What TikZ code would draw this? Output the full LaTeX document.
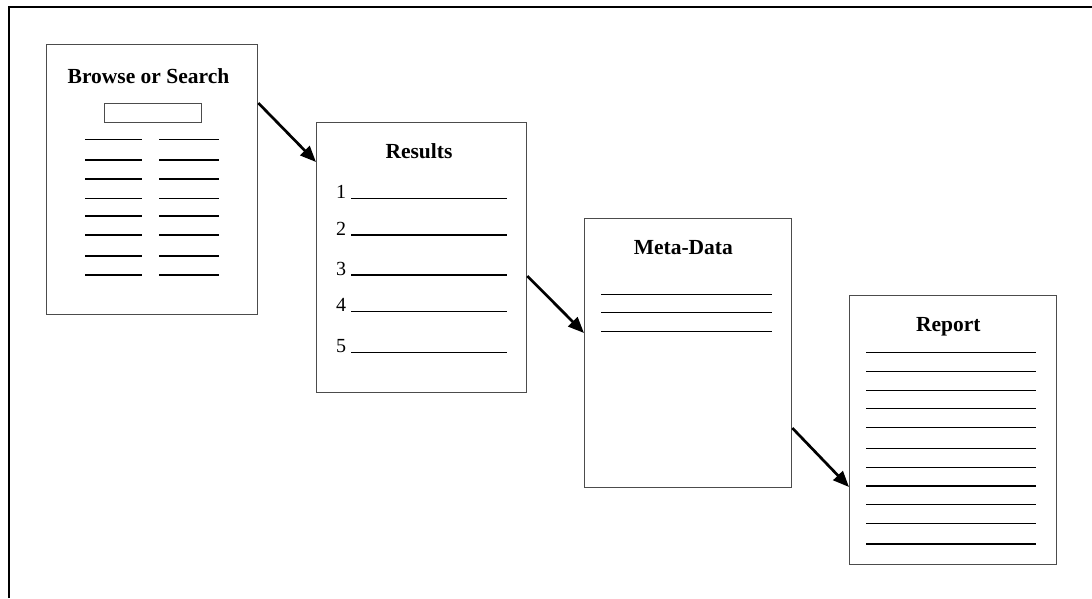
\documentclass[tikz,border=0pt]{standalone}
\usepackage{fontspec}
\setmainfont{Liberation Serif}
\usetikzlibrary{arrows.meta}
\begin{document}
\begin{tikzpicture}[x=1pt,y=-1pt,
  doc/.style={draw=black!70, line width=1.3pt, fill=white, inner sep=0pt, anchor=north west},
  ttl/.style={font=\fontsize{21.5}{24}\selectfont\bfseries, inner sep=0pt, anchor=base},
  num/.style={font=\fontsize{20}{24}\selectfont, inner sep=0pt, anchor=base west},
  rule/.style={line width=1.2pt, black},
  flow/.style={line width=2.7pt, -{Triangle[length=16pt,width=13pt]}}]
\useasboundingbox (0,0) rectangle (1092,598);
\draw[line width=2.2pt] (9,598) -- (9,7) -- (1092,7);

% boxes
\node[doc, minimum width=211pt, minimum height=270pt] (b1) at (46,44) {};
\node[doc, minimum width=210pt, minimum height=270pt] (b2) at (316,122) {};
\node[doc, minimum width=207pt, minimum height=269pt] (b3) at (584,218) {};
\node[doc, minimum width=207pt, minimum height=269pt] (b4) at (849,295) {};

% titles
\node[ttl] (t1) at (148.5,83.3) {Browse or Search};
\node[ttl] (t2) at (419,158.3) {Results};
\node[ttl] (t3) at (683.3,254) {Meta-Data};
\node[ttl] (t4) at (948.3,331) {Report};

% browse page
\node[draw=black!70, line width=1.2pt, inner sep=0pt, minimum width=97pt, minimum height=19pt, anchor=north west] (sb) at (104,103) {};
\foreach \y in {139.3,160,179,198.3,216,235,256,275} {
  \draw[rule] (85,\y) -- (142,\y);
  \draw[rule] (159,\y) -- (219,\y);
}

% results page
\foreach \y [count=\i] in {198.3,235,275,311.7,352.3} {
  \node[num] (n\i) at (336,\y) {\i};
  \draw[rule] (351,\y) -- (507,\y);
}

% meta-data page
\foreach \y in {294.3,312.3,331.3}
  \draw[rule] (601,\y) -- (772,\y);

% report page
\foreach \y in {352.3,371.3,390.3,408.3,427.3,448.3,467.3,486,504.3,523.3,544}
  \draw[rule] (866,\y) -- (1036,\y);

% connectors
\draw[flow] ([yshift=-59pt]b1.north east) -- ([yshift=-40pt]b2.north west);
\draw[flow] ([yshift=-154pt]b2.north east) -- ([yshift=-115pt]b3.north west);
\draw[flow] ([yshift=-210pt]b3.north east) -- ([yshift=-192pt]b4.north west);
\end{tikzpicture}
\end{document}
